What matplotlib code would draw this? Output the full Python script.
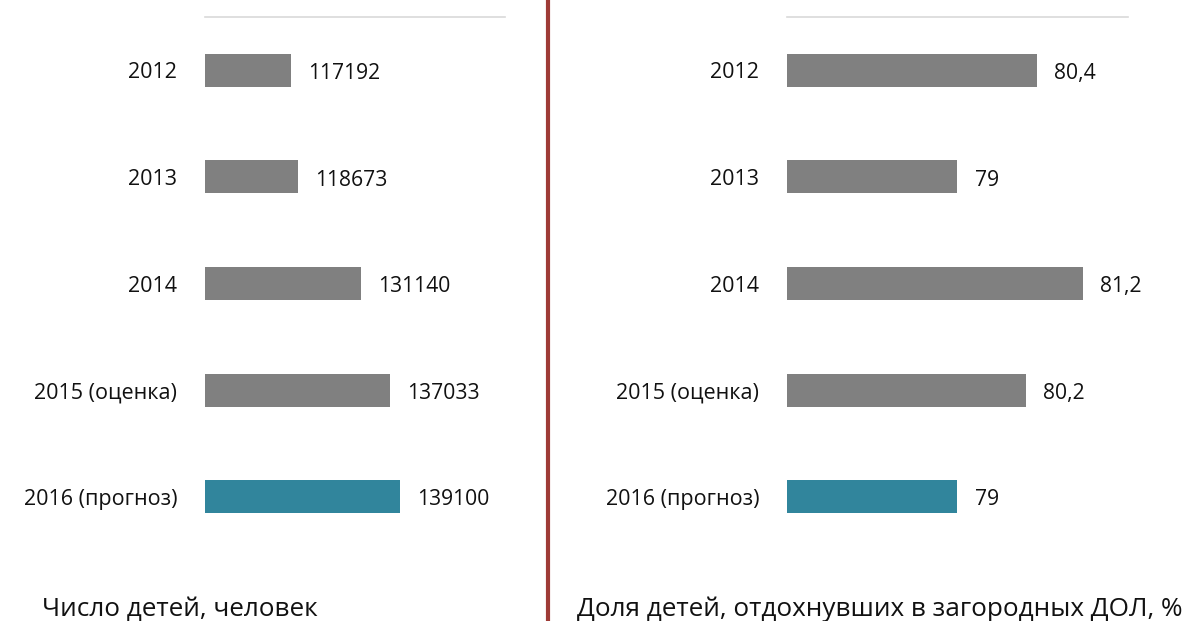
import matplotlib.pyplot as plt
from matplotlib.lines import Line2D

plt.rcParams['font.family'] = ['Open Sans', 'DejaVu Sans']

# --- данные ---
years = ['2012', '2013', '2014', '2015 (оценка)', '2016 (прогноз)']
children = [117192, 118673, 131140, 137033, 139100]
share = [80.4, 79, 81.2, 80.2, 79]
share_labels = ['80,4', '79', '81,2', '80,2', '79']

gray = '#808080'
teal = '#31859C'
colors = [gray, gray, gray, gray, teal]

fig = plt.figure(figsize=(11.87, 6.21), dpi=100)
ax1 = fig.add_axes([0.1727, 0.1143, 0.2527, 0.8583])
ax2 = fig.add_axes([0.663, 0.1143, 0.2873, 0.8583])


def draw(ax, values, labels, xlim, pad):
    y = range(len(values))
    ax.barh(y, values, height=0.31, color=colors)
    ax.set_xlim(*xlim)
    ax.set_ylim(len(values) - 0.5, -0.5)
    for i, (v, t) in enumerate(zip(values, labels)):
        ax.text(v + pad, i + 0.03, t, va='center', ha='left', fontsize=15.2, color='#111111')
    ax.set_yticks(list(y))
    ax.set_yticklabels(years, fontsize=15.5, color='#111111')
    ax.tick_params(axis='y', length=0, pad=20)
    ax.set_xticks([])
    for s in ['left', 'right', 'bottom']:
        ax.spines[s].set_visible(False)
    ax.spines['top'].set_color('#d9d9d9')
    ax.spines['top'].set_linewidth(1.2)


draw(ax1, children, [str(v) for v in children], (100000, 160000), 3400)
draw(ax2, share, share_labels, (76, 82), 0.3)

# разделитель
fig.add_artist(Line2D([548 / 1187, 548 / 1187], [0, 1], color='#9E3B36', lw=3,
                      transform=fig.transFigure))

fig.text(42 / 1187, 0.008, 'Число детей, человек', fontsize=18.8, ha='left', va='baseline',
         color='#111111')
fig.text(577 / 1187, 0.008, 'Доля детей, отдохнувших в загородных ДОЛ, %', fontsize=18.8,
         ha='left', va='baseline', color='#111111')

fig.savefig('out.png', dpi=100)
